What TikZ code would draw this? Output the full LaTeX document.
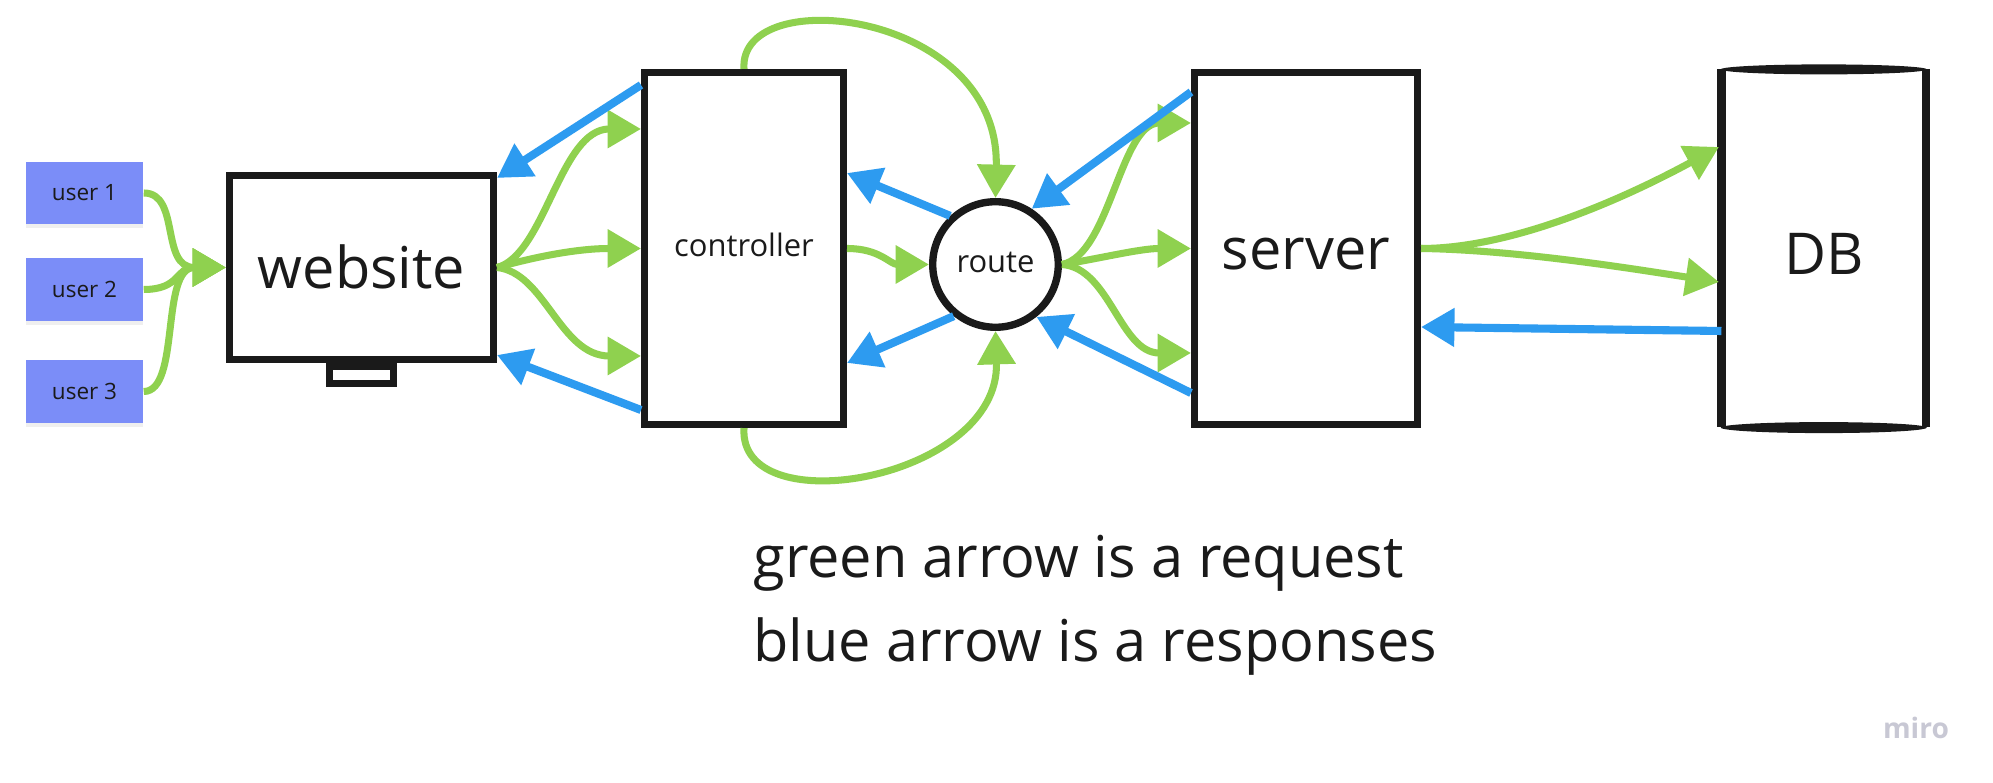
\documentclass[tikz,border=0pt]{standalone}
\usepackage{fontspec}
\setmainfont{Open Sans}
\usetikzlibrary{arrows.meta, calc, shadows}

\definecolor{reqgreen}{RGB}{143,209,79}
\definecolor{resblue}{RGB}{45,155,240}
\definecolor{sticky}{RGB}{123,141,248}
\definecolor{ink}{RGB}{26,26,26}
\definecolor{mirogray}{RGB}{200,200,212}

\begin{document}
\begin{tikzpicture}[
    x=0.01cm, y=-0.01cm,
    >={Triangle[length=9.5pt, width=10.5pt]},
    box/.style={draw=ink, line width=2.1pt, fill=white, inner sep=0pt, text=ink, text depth=0pt},
    note/.style={fill=sticky, minimum width=1.17cm, minimum height=0.62cm, inner sep=0pt,
        text=ink, font=\fontsize{6.4}{8}\selectfont,
        drop shadow={shadow xshift=0pt, shadow yshift=-1.2pt, opacity=0.12}},
    req/.style={->, reqgreen, line width=2pt},
    res/.style={->, resblue, line width=2.3pt},
    bigtext/.style={font=\fontsize{16.4}{24}\selectfont, text=ink},
    smalltext/.style={font=\fontsize{8.8}{11}\selectfont, text height=4.7pt}
]

% canvas (pixel units, y pointing down)
\path[use as bounding box, fill=white] (0,0) rectangle (1993,783);

% Users (sticky notes)
\node[note] (user1) at (84.5,193) {user 1};
\node[note] (user2) at (84.5,289.5) {user 2};
\node[note] (user3) at (84.5,391.5) {user 3};

% Website screen with its stand
\node[box, bigtext, text height=12pt, minimum width=2.635cm, minimum height=1.835cm] (website) at (361.5,267.5) {website};
\draw[ink, line width=2pt] ($(website.south)+(-32,3.5)$) rectangle ($(website.south)+(32,20.5)$);

% Controller, route, server
\node[box, smalltext, minimum width=1.985cm, minimum height=3.515cm] (controller) at (744,248.5) {controller};
\node[box, smalltext, circle, minimum size=1.255cm] (route) at (995.5,264.5) {route};
\node[box, bigtext, text height=12pt, minimum width=2.225cm, minimum height=3.515cm] (server) at (1306,248.5) {server};

% Database (cylinder seen from the side)
\node[bigtext, minimum width=2.045cm, minimum height=3.58cm, inner sep=0pt, outer sep=0pt,
    text height=15pt, text depth=0pt] (db) at (1823.75,248) {DB};
\draw[ink, line width=2.5pt] (db.north west) -- (db.south west);
\draw[ink, line width=2.5pt] (db.north east) -- (db.south east);
\fill[ink] ($(db.north)+(0,0.5)$) ellipse [x radius=103, y radius=5];
\fill[ink] ($(db.south)+(0,0.5)$) ellipse [x radius=103, y radius=5.5];

% Requests (green)
\draw[req] (user1.east) .. controls +(37,0) and +(-66,0) .. (website.west);
\draw[req] (user2.east) .. controls +(37,0) and +(-51,0) .. (website.west);
\draw[req] (user3.east) .. controls +(37,0) and +(-66,0) .. (website.west);

\draw[req] (website.east) .. controls +(48,-12.5) and +(-81,0) .. ($(controller.west)+(0,-119.5)$);
\draw[req] (website.east) .. controls +(43,-12) and +(-61,0) .. (controller.west);
\draw[req] (website.east) .. controls +(48,5) and +(-81,0) .. ($(controller.west)+(0,107.5)$);

\draw[req] (controller.east) .. controls +(33,0) and +(-39,0) .. (route.west);
\draw[req] (controller.north) .. controls +(-6,-87) and +(4.5,-188) .. (route.north);
\draw[req] (controller.south) .. controls +(-6,97) and +(4.5,149) .. (route.south);

\draw[req] (route.east) .. controls +(48,-9.5) and +(-71,0) .. ($(server.west)+(0,-125.5)$);
\draw[req] (route.east) .. controls +(38,-6) and +(-51,0) .. (server.west);
\draw[req] (route.east) .. controls +(48,3.5) and +(-71,0) .. ($(server.west)+(0,104.5)$);

\draw[req] (server.east) .. controls +(99,0) and +(-79,43) .. ($(db.west)+(-2.5,-101)$);
\draw[req] (server.east) .. controls +(99,1.5) and +(-79,-12) .. ($(db.west)+(-2.5,34)$);

% Responses (blue)
\draw[res] ($(controller.west)+(0,-163.5)$) -- ($(website.north east)+(0,6)$);
\draw[res] ($(controller.west)+(0,161.5)$) -- ($(website.south east)+(0,-8)$);
\draw[res] (route.133) -- ($(controller.east)+(0,-75.5)$);
\draw[res] (route.231) -- ($(controller.east)+(0,114.5)$);
\draw[res] ($(server.west)+(0,-156.5)$) -- (route.57);
\draw[res] ($(server.west)+(0,144.5)$) -- (route.-52);
\draw[res] ($(db.west)+(0,83)$) -- ($(server.east)+(0,78.5)$);

% Legend
\node[bigtext, align=left, anchor=west] (legend) at (741,605) {green arrow is a request\\blue arrow is a responses};

% Watermark
\node[font=\fontsize{8}{10}\selectfont\bfseries, text=mirogray] (miro) at (1916,728) {miro};

\end{tikzpicture}
\end{document}
